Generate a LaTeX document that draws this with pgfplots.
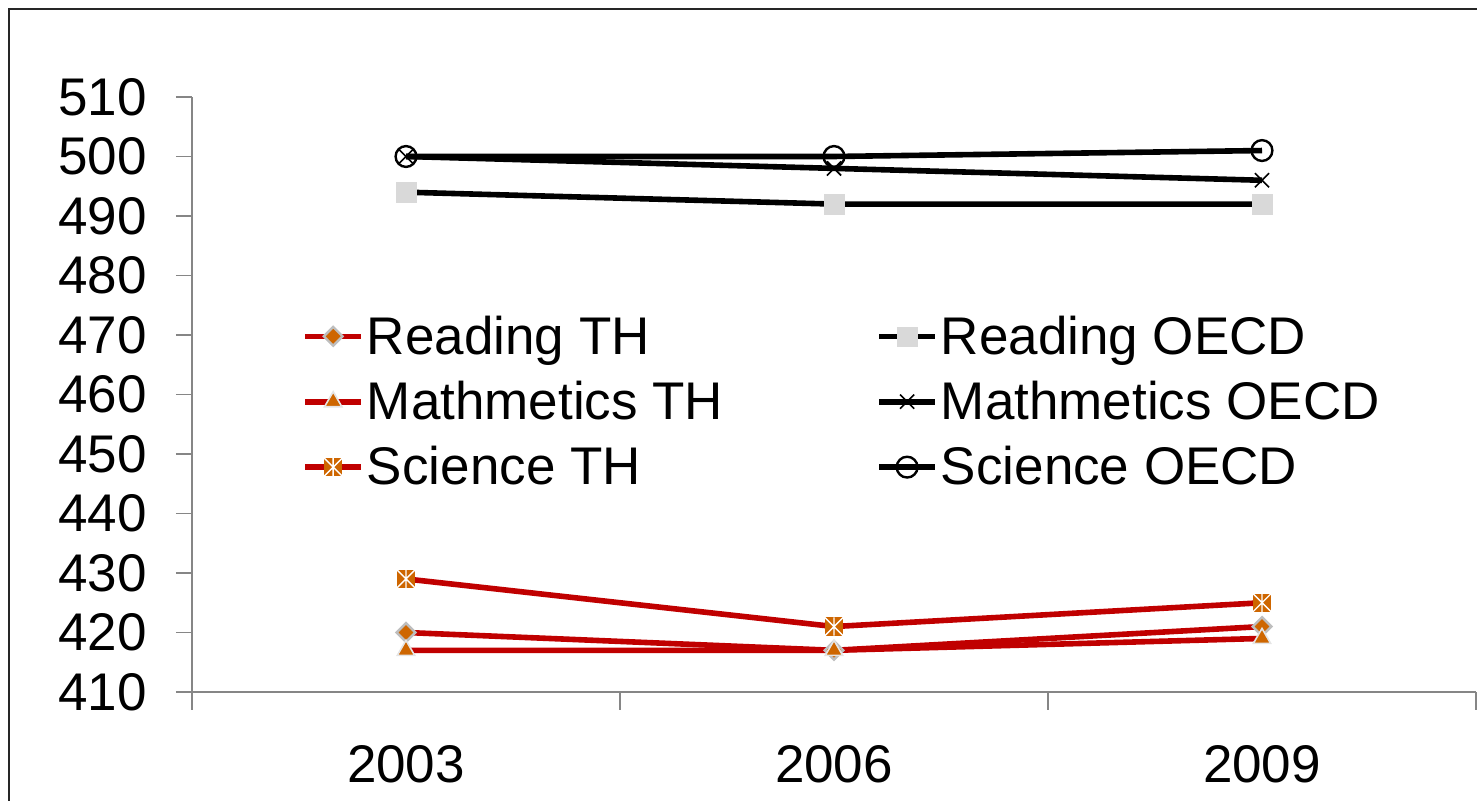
\documentclass[border=0pt]{standalone}
\usepackage{fontspec}
\setmainfont{Liberation Sans}
\usepackage{pgfplots}
\pgfplotsset{compat=1.18}

\definecolor{thred}{RGB}{192,0,0}
\definecolor{thorange}{RGB}{206,102,0}
\definecolor{axgray}{RGB}{134,134,134}
\definecolor{mkgray}{RGB}{190,190,190}
\definecolor{sqgray}{RGB}{217,217,217}

% orange square with a white star on it
\pgfdeclareplotmark{sqstar}{%
  \pgfpathrectangle{\pgfqpoint{-\pgfplotmarksize}{-\pgfplotmarksize}}%
    {\pgfqpoint{2\pgfplotmarksize}{2\pgfplotmarksize}}%
  \pgfsetfillcolor{thorange}\pgfusepathqfill
  \pgfsetstrokecolor{white}\pgfsetlinewidth{0.7pt}%
  \pgfpathmoveto{\pgfqpoint{-\pgfplotmarksize}{-\pgfplotmarksize}}%
  \pgfpathlineto{\pgfqpoint{\pgfplotmarksize}{\pgfplotmarksize}}%
  \pgfpathmoveto{\pgfqpoint{-\pgfplotmarksize}{\pgfplotmarksize}}%
  \pgfpathlineto{\pgfqpoint{\pgfplotmarksize}{-\pgfplotmarksize}}%
  \pgfpathmoveto{\pgfqpoint{0pt}{-\pgfplotmarksize}}%
  \pgfpathlineto{\pgfqpoint{0pt}{\pgfplotmarksize}}%
  \pgfusepathqstroke}

\begin{document}
\begin{tikzpicture}
\useasboundingbox (-96pt,-54.5pt) rectangle (642.5pt,346pt);
\clip (-96pt,-54.5pt) rectangle (642.5pt,346pt);
\draw[line width=1pt, black!85] (-91.5pt,-150pt) rectangle (800pt,341.5pt);
\begin{axis}[
  scale only axis, width=642pt, height=297.5pt,
  xmin=-0.5, xmax=2.5, ymin=410, ymax=510,
  ytick={410,420,...,510},
  xtick={0,1,2}, xticklabels={2003,2006,2009},
  minor xtick={-0.5,0.5,1.5,2.5},
  axis x line*=bottom, axis y line*=left,
  axis line style={axgray, line width=0.9pt},
  tick align=outside, major tick length=8pt, minor tick length=9pt,
  major x tick style={draw=none},
  minor x tick style={axgray, line width=0.9pt},
  ytick style={axgray, line width=0.9pt},
  tick label style={font=\fontsize{26.5}{30}\selectfont},
  /pgf/number format/assume math mode=true,
  yticklabel style={xshift=-11pt},
  xticklabel style={yshift=-15pt},
  legend columns=2,
  legend cell align=left,
  legend image code/.code={
    \draw[mark repeat=2, mark phase=2] plot coordinates {(0pt,0pt)(14pt,0pt)(28pt,0pt)};
  },
  legend style={draw=none, fill=none, at={(0.081,0.645)}, anchor=north west,
    font=\fontsize{26.5}{30}\selectfont, row sep=9pt,
    nodes={inner sep=1.5pt},
    /tikz/column 2/.style={column sep=75pt}},
]
\addplot[thred, line width=2.8pt, mark=square*, mark size=3.3pt,
  mark options={rotate=45, fill=thorange, draw=mkgray, line width=1.2pt}]
  coordinates {(0,420)(1,417)(2,421)};
\addlegendentry{Reading TH}
\addplot[black, line width=2.8pt, mark=square*, mark size=4.8pt,
  mark options={fill=sqgray, draw=sqgray, line width=0.1pt}]
  coordinates {(0,494)(1,492)(2,492)};
\addlegendentry{Reading OECD}
\addplot[thred, line width=2.8pt, mark=triangle*, mark size=5pt,
  mark options={fill=thorange, draw=white!90!black, line width=0.8pt}]
  coordinates {(0,417)(1,417)(2,419)};
\addlegendentry{Mathmetics TH}
\addplot[black, line width=2.8pt, mark=x, mark size=5pt,
  mark options={line width=0.8pt}]
  coordinates {(0,500)(1,498)(2,496)};
\addlegendentry{Mathmetics OECD}
\addplot[thred, line width=2.8pt, mark=sqstar, mark size=4.6pt]
  coordinates {(0,429)(1,421)(2,425)};
\addlegendentry{Science TH}
\addplot[black, line width=2.8pt, mark=o, mark size=5.2pt,
  mark options={fill=white, line width=1.2pt}]
  coordinates {(0,500)(1,500)(2,501)};
\addlegendentry{Science OECD}
\end{axis}
\end{tikzpicture}
\end{document}
